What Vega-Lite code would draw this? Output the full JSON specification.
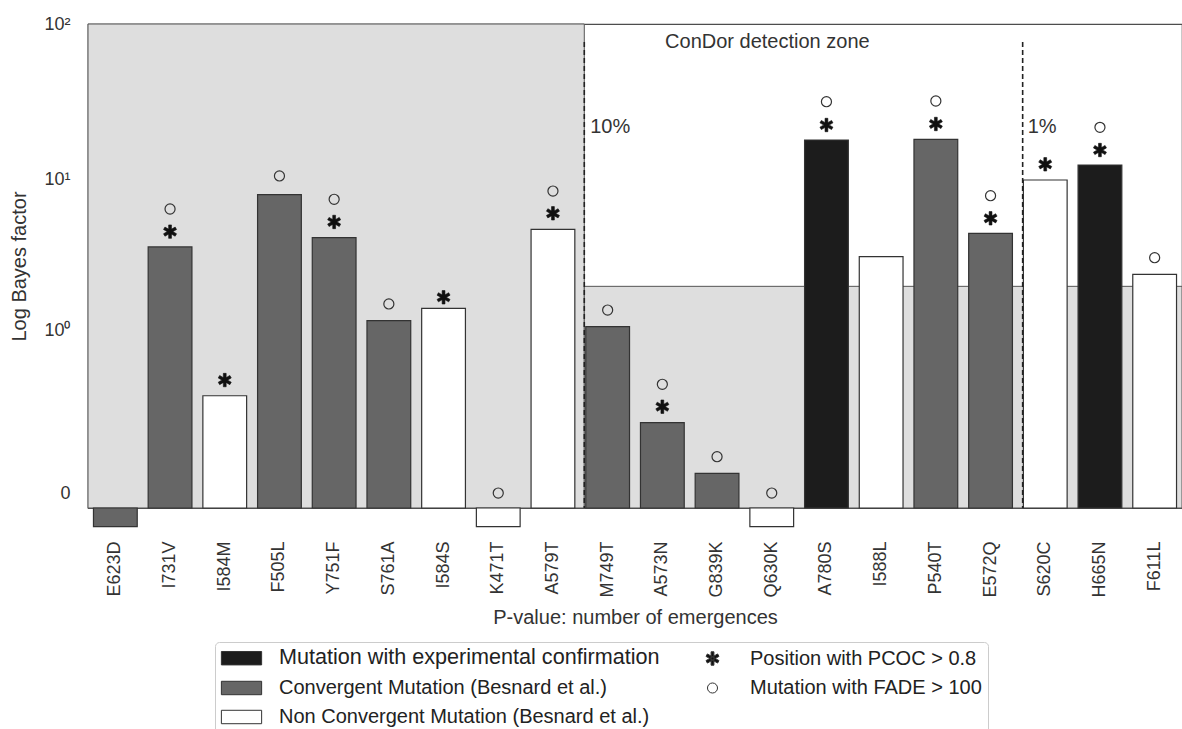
{
  "$schema": "https://vega.github.io/schema/vega-lite/v6.json",
  "width": 1094,
  "height": 484,
  "autosize": {"type": "none"},
  "padding": {"left": 88, "top": 24, "right": 0, "bottom": 221},
  "background": "#ffffff",
  "datasets": {
    "bars": [
      {"mut": "E623D", "cat": "Convergent Mutation (Besnard et al.)", "bf": -0.064},
      {"mut": "I731V", "cat": "Convergent Mutation (Besnard et al.)", "bf": 3.65},
      {"mut": "I584M", "cat": "Non Convergent Mutation (Besnard et al.)", "bf": 0.319},
      {"mut": "F505L", "cat": "Convergent Mutation (Besnard et al.)", "bf": 8.0},
      {"mut": "Y751F", "cat": "Convergent Mutation (Besnard et al.)", "bf": 4.2},
      {"mut": "S761A", "cat": "Convergent Mutation (Besnard et al.)", "bf": 1.166},
      {"mut": "I584S", "cat": "Non Convergent Mutation (Besnard et al.)", "bf": 1.419},
      {"mut": "K471T", "cat": "Non Convergent Mutation (Besnard et al.)", "bf": -0.064},
      {"mut": "A579T", "cat": "Non Convergent Mutation (Besnard et al.)", "bf": 4.765},
      {"mut": "M749T", "cat": "Convergent Mutation (Besnard et al.)", "bf": 1.059},
      {"mut": "A573N", "cat": "Convergent Mutation (Besnard et al.)", "bf": 0.182},
      {"mut": "G839K", "cat": "Convergent Mutation (Besnard et al.)", "bf": 0.0337},
      {"mut": "Q630K", "cat": "Non Convergent Mutation (Besnard et al.)", "bf": -0.064},
      {"mut": "A780S", "cat": "Mutation with experimental confirmation", "bf": 18.03},
      {"mut": "I588L", "cat": "Non Convergent Mutation (Besnard et al.)", "bf": 3.149},
      {"mut": "P540T", "cat": "Convergent Mutation (Besnard et al.)", "bf": 18.22},
      {"mut": "E572Q", "cat": "Convergent Mutation (Besnard et al.)", "bf": 4.487},
      {"mut": "S620C", "cat": "Non Convergent Mutation (Besnard et al.)", "bf": 9.956},
      {"mut": "H665N", "cat": "Mutation with experimental confirmation", "bf": 12.44},
      {"mut": "F611L", "cat": "Non Convergent Mutation (Besnard et al.)", "bf": 2.407}
    ],
    "stars": [
      {"mut": "I731V", "cat": "Position with PCOC > 0.8", "y": 4.6},
      {"mut": "I584M", "cat": "Position with PCOC > 0.8", "y": 0.428},
      {"mut": "Y751F", "cat": "Position with PCOC > 0.8", "y": 5.32},
      {"mut": "I584S", "cat": "Position with PCOC > 0.8", "y": 1.687},
      {"mut": "A579T", "cat": "Position with PCOC > 0.8", "y": 6.057},
      {"mut": "A573N", "cat": "Position with PCOC > 0.8", "y": 0.2566},
      {"mut": "A780S", "cat": "Position with PCOC > 0.8", "y": 22.51},
      {"mut": "P540T", "cat": "Position with PCOC > 0.8", "y": 22.85},
      {"mut": "E572Q", "cat": "Position with PCOC > 0.8", "y": 5.62},
      {"mut": "S620C", "cat": "Position with PCOC > 0.8", "y": 12.57},
      {"mut": "H665N", "cat": "Position with PCOC > 0.8", "y": 15.54}
    ],
    "circles": [
      {"mut": "I731V", "cat": "Mutation with FADE > 100", "y": 6.46},
      {"mut": "F505L", "cat": "Mutation with FADE > 100", "y": 10.57},
      {"mut": "Y751F", "cat": "Mutation with FADE > 100", "y": 7.47},
      {"mut": "S761A", "cat": "Mutation with FADE > 100", "y": 1.519},
      {"mut": "K471T", "cat": "Mutation with FADE > 100", "y": 0},
      {"mut": "A579T", "cat": "Mutation with FADE > 100", "y": 8.451},
      {"mut": "M749T", "cat": "Mutation with FADE > 100", "y": 1.381},
      {"mut": "A573N", "cat": "Mutation with FADE > 100", "y": 0.396},
      {"mut": "G839K", "cat": "Mutation with FADE > 100", "y": 0.0707},
      {"mut": "Q630K", "cat": "Mutation with FADE > 100", "y": 0},
      {"mut": "A780S", "cat": "Mutation with FADE > 100", "y": 31.77},
      {"mut": "P540T", "cat": "Mutation with FADE > 100", "y": 32.1},
      {"mut": "E572Q", "cat": "Mutation with FADE > 100", "y": 7.88},
      {"mut": "H665N", "cat": "Mutation with FADE > 100", "y": 21.75},
      {"mut": "F611L", "cat": "Mutation with FADE > 100", "y": 3.1}
    ],
    "zones": [
      {"x1": -0.5, "x2": 8.573, "y1": -0.0247, "y2": 100},
      {"x1": 8.573, "x2": 19.5, "y1": -0.0247, "y2": 2}
    ],
    "thresholds": [
      {"name": "10%", "x": 8.573, "top": 76.7},
      {"name": "1%", "x": 16.587, "top": 76.7}
    ],
    "notes": [
      {"text": "ConDor detection zone", "x": 10.05, "y": 76.7},
      {"text": "10%", "x": 8.68, "y": 21.85},
      {"text": "1%", "x": 16.68, "y": 21.85}
    ]
  },
  "resolve": {"scale": {"x": "independent"}},
  "layer": [
    {
      "data": {"name": "zones"},
      "mark": {"type": "rect", "fill": "#dedede", "stroke": "#555555", "strokeWidth": 1},
      "encoding": {
        "x": {"field": "x1", "type": "quantitative", "scale": {"domain": [-0.5, 19.5], "nice": false, "zero": false}, "axis": null},
        "x2": {"field": "x2"},
        "y": {"field": "y1", "type": "quantitative"},
        "y2": {"field": "y2"}
      }
    },
    {
      "layer": [
        {
          "data": {"name": "bars"},
          "mark": {"type": "bar", "stroke": "#333333", "strokeWidth": 1.2},
          "encoding": {
            "x": {
              "field": "mut", "type": "nominal", "sort": null,
              "scale": {"paddingInner": 0.2, "paddingOuter": 0.1},
              "axis": {"title": "P-value: number of emergences", "labelAngle": -90, "labelPadding": 33, "titlePadding": 10}
            },
            "y": {
              "field": "bf", "type": "quantitative",
              "scale": {"type": "symlog", "constant": 0.1, "domain": [-0.0247, 100], "nice": false, "zero": false},
              "axis": {
                "title": "Log Bayes factor", "values": [0, 1, 10, 100], "labelOverlap": false,
                "labelExpr": "datum.value === 0 ? '0' : datum.value === 1 ? '10⁰' : datum.value === 10 ? '10¹' : '10²'",
                "labelPadding": 18, "titlePadding": 14
              }
            },
            "y2": {"datum": -0.0247},
            "fill": {
              "field": "cat", "type": "nominal",
              "scale": {
                "domain": ["Mutation with experimental confirmation", "Convergent Mutation (Besnard et al.)", "Non Convergent Mutation (Besnard et al.)", "Position with PCOC > 0.8", "Mutation with FADE > 100"],
                "range": ["#1c1c1c", "#666666", "#ffffff", "#111111", "transparent"]
              },
              "legend": {
                "title": null,
                "values": ["Mutation with experimental confirmation", "Convergent Mutation (Besnard et al.)", "Non Convergent Mutation (Besnard et al.)", "Position with PCOC > 0.8", "Mutation with FADE > 100"],
                "orient": "none", "legendX": 127, "legendY": 618, "columns": 2, "columnPadding": 32, "rowPadding": 9,
                "symbolSize": 180, "symbolOffset": 10.5, "labelFontSize": 20, "labelOffset": 27.5, "labelLimit": 0, "labelColor": "#222222",
                "strokeColor": "#cccccc", "fillColor": "#ffffff", "padding": 6, "cornerRadius": 4,
                "symbolStrokeColor": "#333333", "symbolStrokeWidth": 1,
                "encode": {
                  "symbols": {"update": {"stroke": {"value": "#333333"}, "strokeWidth": {"value": 1}, "opacity": {"value": 1}}},
                  "labels": {"update": {"fontSize": {"signal": "datum.value === 'Mutation with experimental confirmation' ? 21.6 : 20"}}}
                }
              }
            }
          }
        },
        {
          "data": {"name": "stars"},
          "mark": {"type": "point", "filled": true, "opacity": 1, "size": 180, "stroke": "#111111", "strokeWidth": 0.6},
          "encoding": {
            "x": {"field": "mut", "type": "nominal", "sort": null},
            "y": {"field": "y", "type": "quantitative"},
            "fill": {"field": "cat", "type": "nominal"},
            "shape": {
              "field": "cat", "type": "nominal",
              "scale": {
                "domain": ["Mutation with experimental confirmation", "Convergent Mutation (Besnard et al.)", "Non Convergent Mutation (Besnard et al.)", "Position with PCOC > 0.8", "Mutation with FADE > 100"],
                "range": ["M-3,-1H3V1H-3Z", "M-3,-1H3V1H-3Z", "M-3,-1H3V1H-3Z", "M-0.21,1L0.21,1L0.21,-1L-0.21,-1ZM0.761,0.682L0.971,0.318L-0.761,-0.682L-0.971,-0.318ZM-0.971,0.318L-0.761,0.682L0.971,-0.318L0.761,-0.682Z", "M0.75,0A0.75,0.75,0,1,1,-0.75,0A0.75,0.75,0,1,1,0.75,0Z"]
              },
              "legend": {
                "title": null,
                "values": ["Mutation with experimental confirmation", "Convergent Mutation (Besnard et al.)", "Non Convergent Mutation (Besnard et al.)", "Position with PCOC > 0.8", "Mutation with FADE > 100"],
                "orient": "none", "legendX": 127, "legendY": 618, "columns": 2, "columnPadding": 32, "rowPadding": 9,
                "symbolSize": 180, "symbolOffset": 10.5, "labelFontSize": 20, "labelOffset": 27.5, "labelLimit": 0, "labelColor": "#222222",
                "strokeColor": "#cccccc", "fillColor": "#ffffff", "padding": 6, "cornerRadius": 4,
                "symbolStrokeColor": "#333333", "symbolStrokeWidth": 1,
                "encode": {
                  "symbols": {"update": {"stroke": {"value": "#333333"}, "strokeWidth": {"value": 1}, "opacity": {"value": 1}}},
                  "labels": {"update": {"fontSize": {"signal": "datum.value === 'Mutation with experimental confirmation' ? 21.6 : 20"}}}
                }
              }
            }
          }
        },
        {
          "data": {"name": "circles"},
          "mark": {"type": "point", "filled": true, "opacity": 1, "size": 180, "stroke": "#333333", "strokeWidth": 1.2},
          "encoding": {
            "x": {"field": "mut", "type": "nominal", "sort": null},
            "y": {"field": "y", "type": "quantitative"},
            "fill": {"field": "cat", "type": "nominal"},
            "shape": {"field": "cat", "type": "nominal"}
          }
        }
      ]
    },
    {
      "mark": {"type": "rule", "color": "#222222", "strokeWidth": 2},
      "encoding": {"y": {"datum": 2}}
    },
    {
      "data": {"name": "thresholds"},
      "mark": {"type": "rule", "color": "#222222", "strokeWidth": 1.6, "strokeDash": [5, 3]},
      "encoding": {
        "x": {"field": "x", "type": "quantitative", "scale": {"domain": [-0.5, 19.5], "nice": false, "zero": false}, "axis": null},
        "y": {"field": "top", "type": "quantitative"},
        "y2": {"datum": -0.0247}
      }
    },
    {
      "data": {"name": "notes"},
      "mark": {"type": "text", "align": "left", "baseline": "middle", "fontSize": 20, "color": "#333333", "font": "Liberation Sans"},
      "encoding": {
        "x": {"field": "x", "type": "quantitative", "scale": {"domain": [-0.5, 19.5], "nice": false, "zero": false}, "axis": null},
        "y": {"field": "y", "type": "quantitative"},
        "text": {"field": "text"}
      }
    }
  ],
  "config": {
    "font": "Liberation Sans",
    "view": {"stroke": "#4d4d4d", "strokeWidth": 1.2},
    "axis": {
      "grid": false, "ticks": false, "domain": false,
      "labelFont": "Liberation Sans", "labelFontSize": 18, "labelColor": "#333333",
      "titleFont": "Liberation Sans", "titleFontSize": 20, "titleFontWeight": "normal", "titleColor": "#333333"
    }
  }
}
